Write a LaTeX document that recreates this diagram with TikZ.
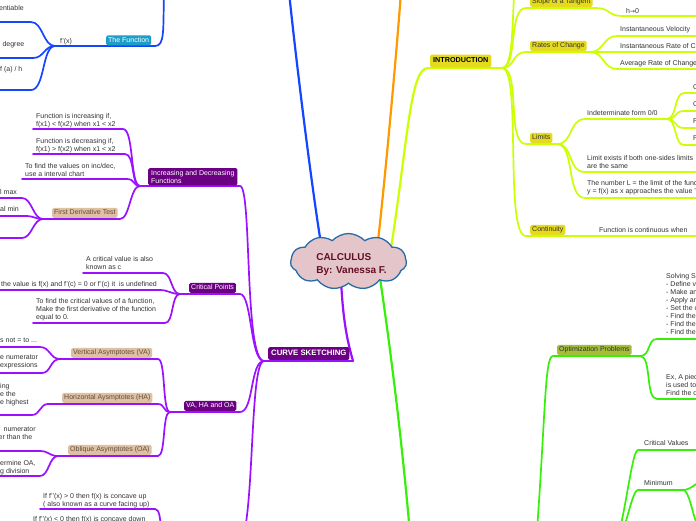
\documentclass[tikz,border=0pt]{standalone}
\usepackage{fontspec}
\setmainfont{Liberation Sans}
\newfontfamily\djv{DejaVu Sans}
\usetikzlibrary{shapes.symbols}
\definecolor{cBlue}{RGB}{20,70,255}
\definecolor{cOrange}{RGB}{255,153,0}
\definecolor{cYel}{RGB}{204,255,0}
\definecolor{cPur}{RGB}{155,16,255}
\definecolor{cGreen}{RGB}{55,240,10}
\definecolor{fIntro}{RGB}{230,218,30}
\definecolor{fDark}{RGB}{108,0,130}
\definecolor{fTan}{RGB}{224,192,162}
\definecolor{fTeal}{RGB}{28,158,200}
\definecolor{fOlive}{RGB}{164,190,58}
\definecolor{cloudFill}{RGB}{228,197,201}
\definecolor{cloudLine}{RGB}{38,108,170}
\definecolor{titleCol}{RGB}{100,15,35}
\definecolor{txt}{RGB}{51,51,51}
\definecolor{tanTxt}{RGB}{95,78,62}
\tikzset{
  conn/.style={line width=1.7pt, line cap=round},
  trunk/.style={line width=2.2pt, line cap=round},
  tt/.style={font=\fontsize{7}{8}\selectfont, text=txt, inner sep=0pt, anchor=north west, align=left, yshift=2.8pt},
  bx/.style={font=\fontsize{7}{8}\selectfont, inner xsep=2pt, inner ysep=1.8pt, rounded corners=1.5pt, anchor=south west, text height=5pt, text depth=1.4pt},
  bxm/.style={font=\fontsize{7}{8}\selectfont, inner xsep=3pt, inner ysep=2pt, rounded corners=1.5pt, anchor=south west, align=left},
  bxb/.style={inner xsep=3pt, inner ysep=3pt, rounded corners=1.5pt, anchor=south west, text height=5.2pt, text depth=1.4pt}
}
\begin{document}
\begin{tikzpicture}[x=1pt,y=-1pt]
\useasboundingbox (0,0) rectangle (696,520);
\fill[white] (0,0) rectangle (696,520);
\clip (0,0) rectangle (696,520);
% ---------------- coordinates ----------------
% blue
\coordinate (cB) at (322,250);
\coordinate (bTop) at (289,-8);
\coordinate (fTop) at (164,-8);
\coordinate (fx-s) at (55,46); \coordinate (tf-e) at (155,46);
\coordinate (d1-s) at (-5,22); \coordinate (d1-e) at (31,22);
\coordinate (d2-s) at (-5,58); \coordinate (d2-e) at (33,58);
\coordinate (d3-s) at (-5,90); \coordinate (d3-e) at (31,90);
% orange
\coordinate (cO) at (377,250); \coordinate (oTop) at (401,-8);
% yellow
\coordinate (cY) at (390,255);
\coordinate (in-s) at (428,68); \coordinate (in-e) at (502,68);
\coordinate (up1) at (526,-45);
\coordinate (sl-s) at (526,8); \coordinate (sl-e) at (596,8);
\coordinate (h-s) at (622,16); \coordinate (h-e) at (705,16);
\coordinate (rc-s) at (526,52); \coordinate (rc-e) at (590,52);
\coordinate (iv-s) at (617,36); \coordinate (iv-e) at (705,36);
\coordinate (ir-s) at (617,52); \coordinate (ir-e) at (705,52);
\coordinate (ar-s) at (617,69); \coordinate (ar-e) at (705,69);
\coordinate (li-s) at (526,144); \coordinate (li-e) at (557,144);
\coordinate (ind-s) at (585,119); \coordinate (ind-e) at (667,119);
\coordinate (q1-s) at (684,93); \coordinate (q1-e) at (705,93);
\coordinate (q2-s) at (684,111); \coordinate (q2-e) at (705,111);
\coordinate (q3-s) at (684,128); \coordinate (q3-e) at (705,128);
\coordinate (q4-s) at (684,145); \coordinate (q4-e) at (705,145);
\coordinate (le-s) at (585,172); \coordinate (le-e) at (705,172);
\coordinate (nl-s) at (585,198); \coordinate (nl-e) at (705,198);
\coordinate (co-s) at (526,236); \coordinate (co-e) at (568,236);
\coordinate (fc-s) at (596,236); \coordinate (fc-e) at (705,236);
% purple
\coordinate (cP) at (341,280);
\coordinate (cs-s) at (264,361); \coordinate (cs-e) at (353,361);
\coordinate (id-s) at (140,186); \coordinate (id-e) at (240,186);
\coordinate (i1-s) at (33,129); \coordinate (i1-e) at (123,129);
\coordinate (i2-s) at (33,154); \coordinate (i2-e) at (125,154);
\coordinate (i3-s) at (22,179); \coordinate (i3-e) at (127,179);
\coordinate (fd-s) at (43,219); \coordinate (fd-e) at (120,219);
\coordinate (m1-s) at (-5,198); \coordinate (m1-e) at (22,198);
\coordinate (m2-s) at (-5,216); \coordinate (m2-e) at (26,216);
\coordinate (m3-s) at (-5,238); \coordinate (m3-e) at (22,238);
\coordinate (cp-s) at (180,294); \coordinate (cp-e) at (240,294);
\coordinate (k1-s) at (83,273); \coordinate (k1-e) at (163,273);
\coordinate (k2-s) at (-5,290); \coordinate (k2-e) at (160,290);
\coordinate (k3-s) at (33,323); \coordinate (k3-e) at (165,323);
\coordinate (vo-s) at (170,412); \coordinate (vo-e) at (240,412);
\coordinate (va-s) at (60,359); \coordinate (va-e) at (158,359);
\coordinate (v1-s) at (-5,347); \coordinate (v1-e) at (40,347);
\coordinate (v2-s) at (-5,373); \coordinate (v2-e) at (42,373);
\coordinate (ha-s) at (48,404); \coordinate (ha-e) at (158,404);
\coordinate (h1-s) at (-5,415); \coordinate (h1-e) at (32,415);
\coordinate (oa-s) at (58,456); \coordinate (oa-e) at (158,456);
\coordinate (o1-s) at (-5,451); \coordinate (o1-e) at (40,451);
\coordinate (o2-s) at (-5,476); \coordinate (o2-e) at (40,476);
\coordinate (cc-s) at (166,548); \coordinate (cc-e) at (236,548);
\coordinate (cu-s) at (40,509); \coordinate (cu-e) at (155,509);
\coordinate (cd-s) at (30,533); \coordinate (cd-e) at (152,533);
% green
\coordinate (cG) at (380,278); \coordinate (gB) at (413,570);
\coordinate (gM) at (534,570);
\coordinate (op-s) at (553,356); \coordinate (op-e) at (640,356);
\coordinate (s1-s) at (657,339); \coordinate (s1-e) at (705,339);
\coordinate (s2-s) at (657,399); \coordinate (s2-e) at (705,399);
\coordinate (gQ) at (605,560);
\coordinate (cv-s) at (638,450); \coordinate (cv-e) at (705,450);
\coordinate (mn-s) at (638,490); \coordinate (mn-e) at (683,490);
\coordinate (mx1) at (706,480); \coordinate (mx2) at (710,540);

% ---------------- connectors ----------------
% blue
\draw[trunk,cBlue] (cB) .. controls (312,190) and (296,60) .. (bTop);
\draw[conn,cBlue] (fTop) .. controls (163,30) and (165,46) .. (tf-e);
\draw[conn,cBlue] (fx-s) -- (tf-e);
\draw[conn,cBlue] (d1-s) -- (d1-e) .. controls (43,22) and (43,46) .. (fx-s);
\draw[conn,cBlue] (d2-s) -- (d2-e) .. controls (44,58) and (44,46) .. (fx-s);
\draw[conn,cBlue] (d3-s) -- (d3-e) .. controls (45,90) and (42,46) .. (fx-s);
% orange
\draw[trunk,cOrange] (cO) .. controls (384,190) and (396,60) .. (oTop);
% yellow
\draw[trunk,cYel] (cY) .. controls (408,140) and (410,68) .. (in-s);
\draw[conn,cYel] (in-s) -- (in-e);
\draw[conn,cYel] (in-e) .. controls (520,68) and (506,-45) .. (up1);
\draw[conn,cYel] (in-e) .. controls (518,68) and (508,8) .. (sl-s) -- (sl-e) .. controls (610,8) and (608,16) .. (h-s) -- (h-e);
\draw[conn,cYel] (in-e) .. controls (515,68) and (512,52) .. (rc-s) -- (rc-e);
\draw[conn,cYel] (rc-e) .. controls (604,52) and (603,36) .. (iv-s) -- (iv-e);
\draw[conn,cYel] (rc-e) -- (ir-s) -- (ir-e);
\draw[conn,cYel] (rc-e) .. controls (604,52) and (603,69) .. (ar-s) -- (ar-e);
\draw[conn,cYel] (in-e) .. controls (521,68) and (506,144) .. (li-s) -- (li-e);
\draw[conn,cYel] (li-e) .. controls (573,144) and (569,119) .. (ind-s) -- (ind-e);
\draw[conn,cYel] (ind-e) .. controls (677,119) and (674,93) .. (q1-s) -- (q1-e);
\draw[conn,cYel] (ind-e) .. controls (677,119) and (674,111) .. (q2-s) -- (q2-e);
\draw[conn,cYel] (ind-e) .. controls (677,119) and (674,128) .. (q3-s) -- (q3-e);
\draw[conn,cYel] (ind-e) .. controls (677,119) and (674,145) .. (q4-s) -- (q4-e);
\draw[conn,cYel] (li-e) .. controls (574,144) and (567,172) .. (le-s) -- (le-e);
\draw[conn,cYel] (li-e) .. controls (575,144) and (566,198) .. (nl-s) -- (nl-e);
\draw[conn,cYel] (in-e) .. controls (522,68) and (504,236) .. (co-s) -- (co-e) -- (fc-s) -- (fc-e);
% purple
\draw[trunk,cPur] (cP) .. controls (343,320) and (347,340) .. (cs-e);
\draw[conn,cPur] (cs-s) -- (cs-e);
\draw[conn,cPur] (cs-s) .. controls (244,361) and (252,186) .. (id-e) -- (id-s);
\draw[conn,cPur] (cs-s) .. controls (250,361) and (252,294) .. (cp-e) -- (cp-s);
\draw[conn,cPur] (cs-s) .. controls (250,361) and (254,412) .. (vo-e) -- (vo-s);
\draw[conn,cPur] (cs-s) .. controls (248,361) and (256,548) .. (cc-e) -- (cc-s);
\draw[conn,cPur] (id-s) .. controls (130,186) and (134,129) .. (i1-e) -- (i1-s);
\draw[conn,cPur] (id-s) .. controls (131,186) and (135,154) .. (i2-e) -- (i2-s);
\draw[conn,cPur] (id-s) .. controls (133,186) and (135,179) .. (i3-e) -- (i3-s);
\draw[conn,cPur] (id-s) .. controls (130,186) and (130,219) .. (fd-e) -- (fd-s);
\draw[conn,cPur] (fd-s) .. controls (33,219) and (32,198) .. (m1-e) -- (m1-s);
\draw[conn,cPur] (fd-s) .. controls (35,219) and (34,216) .. (m2-e) -- (m2-s);
\draw[conn,cPur] (fd-s) .. controls (33,219) and (32,238) .. (m3-e) -- (m3-s);
\draw[conn,cPur] (cp-s) .. controls (171,294) and (172,273) .. (k1-e) -- (k1-s);
\draw[conn,cPur] (cp-s) .. controls (171,294) and (168,290) .. (k2-e) -- (k2-s);
\draw[conn,cPur] (cp-s) .. controls (171,294) and (174,323) .. (k3-e) -- (k3-s);
\draw[conn,cPur] (vo-s) .. controls (162,412) and (166,359) .. (va-e) -- (va-s);
\draw[conn,cPur] (vo-s) .. controls (163,412) and (165,404) .. (ha-e) -- (ha-s);
\draw[conn,cPur] (vo-s) .. controls (162,412) and (166,456) .. (oa-e) -- (oa-s);
\draw[conn,cPur] (va-s) .. controls (50,359) and (50,347) .. (v1-e) -- (v1-s);
\draw[conn,cPur] (va-s) .. controls (50,359) and (51,373) .. (v2-e) -- (v2-s);
\draw[conn,cPur] (ha-s) .. controls (40,404) and (40,415) .. (h1-e) -- (h1-s);
\draw[conn,cPur] (oa-s) .. controls (49,456) and (49,451) .. (o1-e) -- (o1-s);
\draw[conn,cPur] (oa-s) .. controls (49,456) and (49,476) .. (o2-e) -- (o2-s);
\draw[conn,cPur] (cc-s) .. controls (158,548) and (164,509) .. (cu-e) -- (cu-s);
\draw[conn,cPur] (cc-s) .. controls (158,548) and (161,533) .. (cd-e) -- (cd-s);
% green
\draw[trunk,cGreen] (cG) .. controls (395,380) and (406,480) .. (gB);
\draw[conn,cGreen] (gM) .. controls (546,420) and (544,356) .. (op-s) -- (op-e);
\draw[conn,cGreen] (op-e) .. controls (651,356) and (647,339) .. (s1-s) -- (s1-e);
\draw[conn,cGreen] (op-e) .. controls (652,356) and (645,399) .. (s2-s) -- (s2-e);
\draw[conn,cGreen] (gQ) .. controls (622,560) and (630,450) .. (cv-s) -- (cv-e);
\draw[conn,cGreen] (gQ) .. controls (622,560) and (630,490) .. (mn-s) -- (mn-e);
\draw[conn,cGreen] (mn-e) .. controls (692,490) and (698,480) .. (mx1);
\draw[conn,cGreen] (mn-e) .. controls (692,490) and (694,540) .. (mx2);

% ---------------- nodes ----------------
% centre
\node[cloud, cloud puffs=11, cloud puff arc=95, aspect=2, draw=cloudLine, fill=cloudFill, line width=1.3pt, minimum width=116pt, minimum height=56pt, inner sep=0pt] (cloud) at (348.5,261.5) {};
\node[font=\fontsize{10}{13}\selectfont\bfseries, text=titleCol, align=left, inner sep=0pt] (title) at (351.5,264.5) {CALCULUS\\By: Vanessa F.};
% blue
\node[tt] (d1) at (-1,8) {entiable};
\node[tt] (d2) at (-3.5,44) {e degree};
\node[tt] (d3) at (0,69) {f (a) / h};
\node[tt] (fx) at (60,41) {f'(x)};
\node[bx, fill=fTeal, text=white] (tf) at (106,45.5) {The Function};
% yellow
\node[bxb, fill=fIntro, text=black, font=\fontsize{7.2}{8}\selectfont\bfseries] (intro) at (430,67.5) {INTRODUCTION};
\node[bx, fill=fIntro, text=txt] (slope) at (530,7) {Slope of a Tangent};
\node[tt] (h0) at (626,11) {h{\djv\fontsize{6}{8}\selectfont →}0};
\node[bx, fill=fIntro, text=txt] (rates) at (530,51) {Rates of Change};
\node[tt] (iv) at (620,29) {Instantaneous Velocity};
\node[tt] (ir) at (620,46) {Instantaneous Rate of Change};
\node[tt] (ar) at (620,63) {Average Rate of Change};
\node[bx, fill=fIntro, text=txt] (limits) at (530,143) {Limits};
\node[tt] (ind) at (587,113) {Indeterminate form 0/0};
\node[tt] (q1) at (693,87) {C};
\node[tt] (q2) at (693,104) {C};
\node[tt] (q3) at (693,121) {F};
\node[tt] (q4) at (693,138) {F};
\node[tt] (le) at (587,158) {Limit exists if both one-sides limits\\are the same};
\node[tt] (nl) at (587,183) {The number L = the limit of the function\\y = f(x) as x approaches the value 'a'};
\node[bx, fill=fIntro, text=txt] (cont) at (530,235) {Continuity};
\node[tt] (fc) at (599,230) {Function is continuous when};
% purple
\node[bxb, fill=fDark, text=white, font=\fontsize{7.8}{8}\selectfont\bfseries] (cs) at (268,360) {CURVE SKETCHING};
\node[bxm, fill=fDark, text=white] (incdec) at (148,185.5) {Increasing and Decreasing\\Functions};
\node[tt] (inc) at (36,116) {Function is increasing if,\\f(x1) < f(x2) when x1 < x2};
\node[tt] (dec) at (36,141) {Function is decreasing if,\\f(x1) > f(x2) when x1 < x2};
\node[tt] (chart) at (25,166) {To find the values on inc/dec,\\use a interval chart};
\node[bx, fill=fTan, text=tanTxt] (fdt) at (52,218) {First Derivative Test};
\node[tt] (lmax) at (0,192) {l max};
\node[tt] (lmin) at (0,209) {al min};
\node[bx, fill=fDark, text=white] (crit) at (189,293) {Critical Points};
\node[tt] (k1) at (86,259) {A critical value is also\\known as c};
\node[tt] (k2) at (1,284) {the value is f(x) and f'(c) = 0 or f'(c) it\ \ is undefined};
\node[tt] (k3) at (36,301) {To find the critical values of a function,\\Make the first derivative of the function\\equal to 0.};
\node[bx, fill=fDark, text=white] (vho) at (184,411) {VA, HA and OA};
\node[bx, fill=fTan, text=tanTxt] (va) at (71,358) {Vertical Asymptotes (VA)};
\node[tt] (v1) at (0,341) {s not = to ...};
\node[tt] (v2) at (0,358) {e numerator\\expressions};
\node[bx, fill=fTan, text=tanTxt] (ha) at (62,403) {Horizontal Aysmptotes (HA)};
\node[tt] (h1) at (0,386) {ing\\e the\\e highest};
\node[bx, fill=fTan, text=tanTxt] (oa) at (68,455) {Oblique Asymptotes (OA)};
\node[tt] (o1) at (-1.5,430) {\hspace*{5pt}numerator\\er than the};
\node[tt] (o2) at (0,463) {ermine OA,\\g division};
\node[tt] (cu) at (43,496) {If f'{}'(x) > 0 then f(x) is concave up\\( also known as a curve facing up)};
\node[tt] (cd) at (33,519) {If f'{}'(x) < 0 then f(x) is concave down};
% green
\node[bx, fill=fOlive, text=txt] (opt) at (557,355) {Optimization Problems};
\node[tt] (s1) at (666,276) {Solving S\\- Define v\\- Make an\\- Apply an\\- Set the c\\- Find the\\- Find the\\- Find the};
\node[tt] (s2) at (666,377) {Ex, A piec\\is used to\\Find the d};
\node[tt] (cv) at (644,443) {Critical Values};
\node[tt] (mn) at (644,483) {Minimum};
\end{tikzpicture}
\end{document}
